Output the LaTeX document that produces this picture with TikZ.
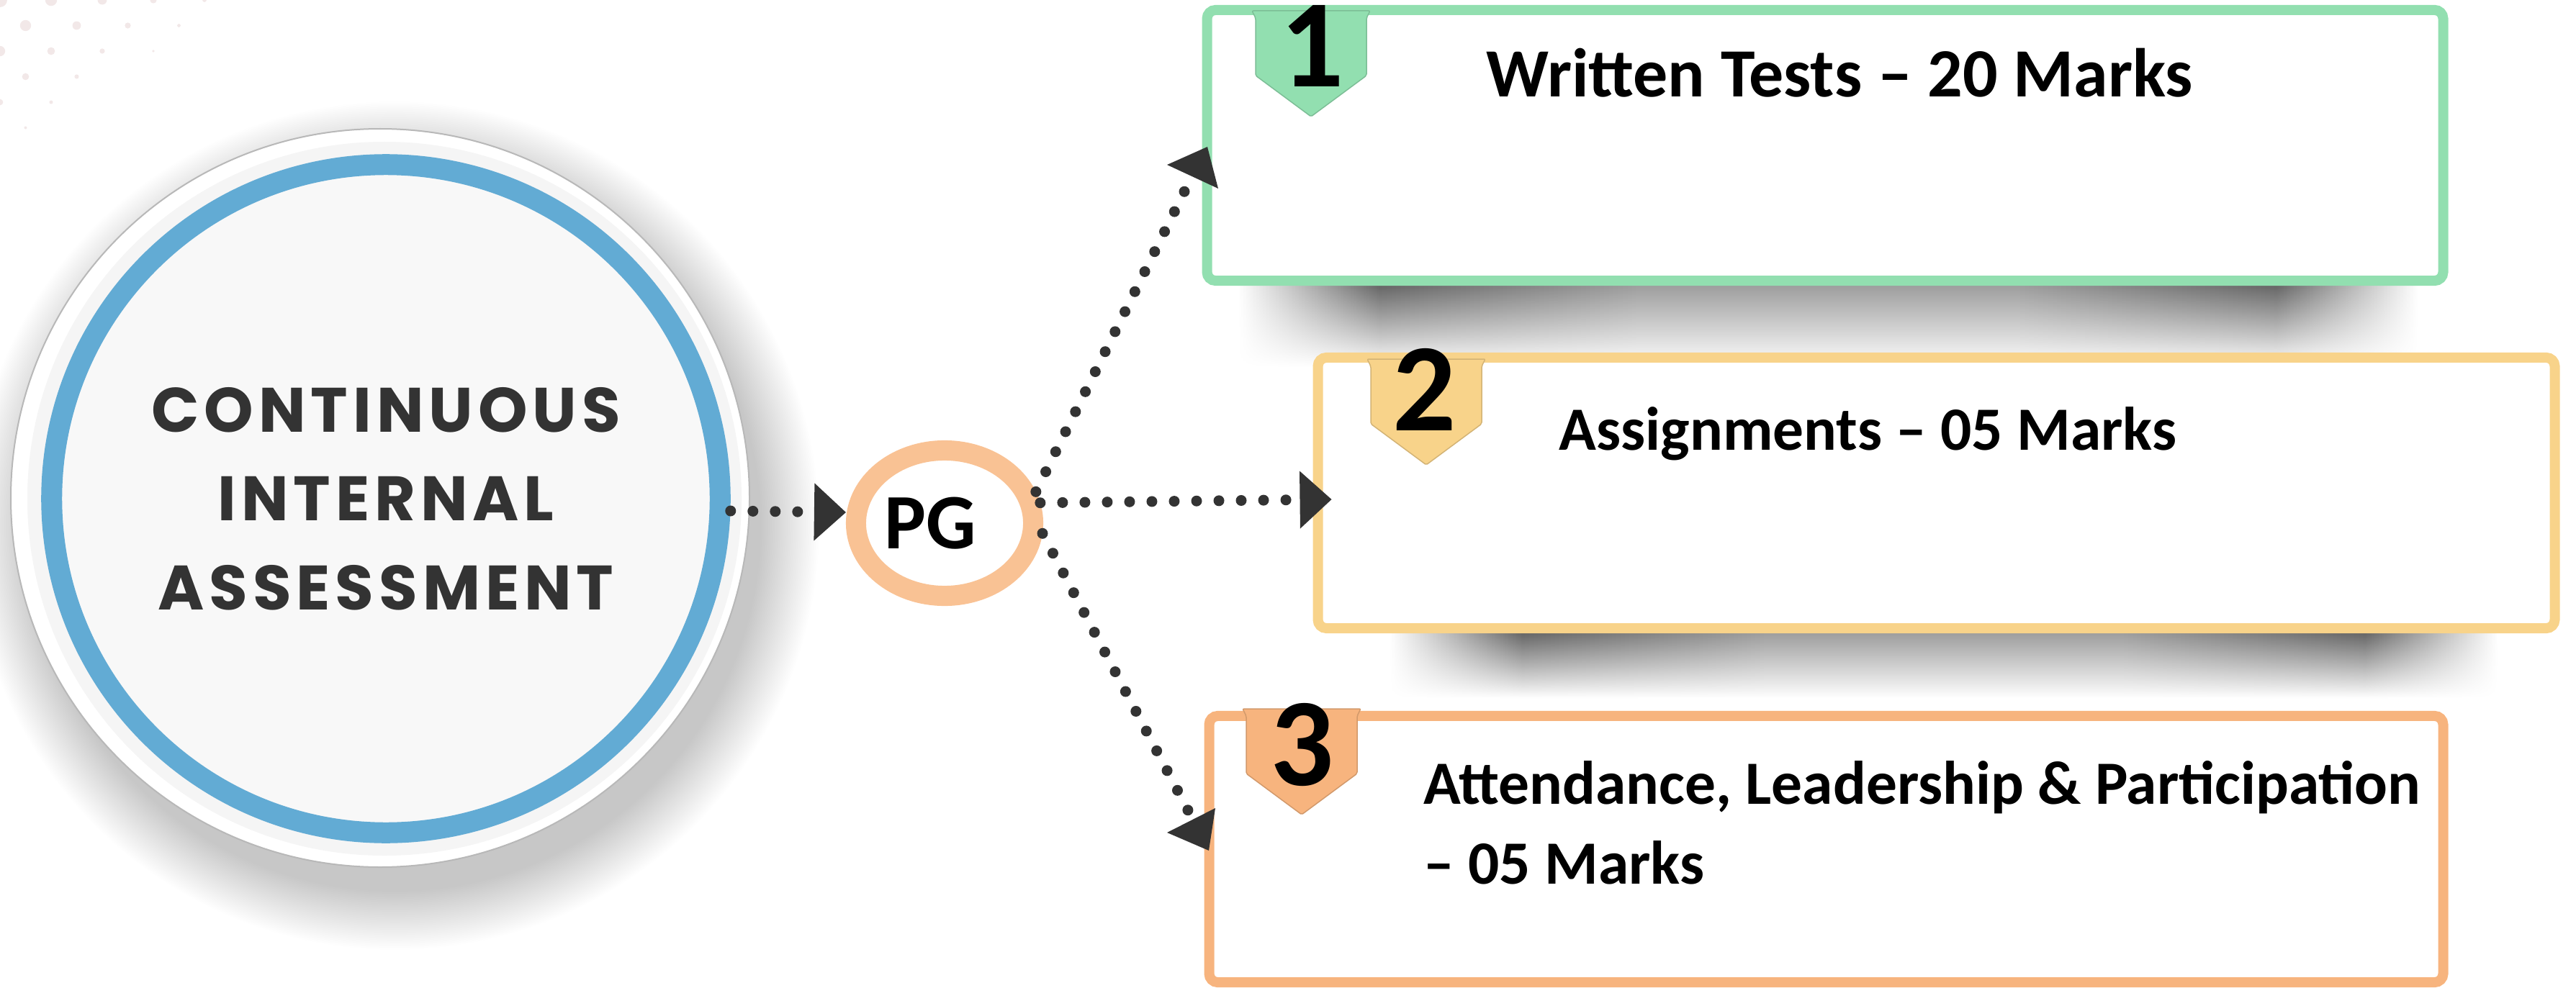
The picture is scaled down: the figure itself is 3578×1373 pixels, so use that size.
\documentclass[tikz,border=0pt]{standalone}
\usepackage{fontspec}
\setmainfont{Carlito}
\newfontfamily\ciafont{Poppins}[LetterSpace=8]
\usepackage{tikz}
\usetikzlibrary{arrows.meta, positioning, shapes.geometric, fadings}
\definecolor{ringblue}{HTML}{62ABD4}
\definecolor{mintline}{HTML}{92DFB0}
\definecolor{goldline}{HTML}{F8D38A}
\definecolor{peachline}{HTML}{F7B47E}
\definecolor{pgring}{HTML}{F9C294}
\definecolor{dotgray}{HTML}{333333}
\definecolor{discfill}{HTML}{F8F8F8}
\definecolor{speck}{HTML}{F2E8E8}
\pgfdeclareradialshading{discshadow}{\pgfpoint{0bp}{0bp}}{color(0bp)=(black!22); color(21.5bp)=(black!22); color(25bp)=(white); color(50bp)=(white)}
\pgfdeclarehorizontalshading{boxshadow}{100bp}{color(0bp)=(white); color(25bp)=(white); color(31bp)=(black!60); color(42bp)=(black!38); color(58bp)=(black!38); color(69bp)=(black!60); color(75bp)=(white); color(100bp)=(white)}
\tikzset{>={Triangle[length=0.44cm, width=0.8cm, line width=0pt]},
  dotline/.style={dotgray, line width=0.15cm, line cap=round, dash pattern=on 0pt off 0.31cm},
  markbox/.style={rectangle, rounded corners=0.12cm, line width=0.14cm, fill=white},
  marktext/.style={anchor=base west, font=\bfseries\fontsize{24.3pt}{31.3pt}\selectfont, align=left},
  badgenum/.style={anchor=base, font=\bfseries\fontsize{49.5pt}{50pt}\selectfont}}

\begin{document}
\begin{tikzpicture}[x=0.01cm, y=-0.01cm, every node/.style={inner sep=0pt}]
	\useasboundingbox (0,0) rectangle (3578,1373);
	% faint dots in the corner
	\foreach \r in {0,...,5}{
		\foreach \c in {0,...,5}{
			\pgfmathsetmacro\dx{71*\c+35.5*mod(\r,2)}
			\pgfmathsetmacro\dy{35.5*\r}
			\pgfmathsetmacro\rad{10-0.025*\dx-0.04*\dy}
			\ifdim\rad pt>1.5pt \fill[speck] (\dx,\dy) circle (\rad); \fi
		}
	}
	% disc
	\shade[shading=discshadow] (548,730) circle (590);
	\fill[white] (528,692) circle (513);
	\draw[black!28, line width=0.02cm] (528,692) circle (513);
	\fill[black!4] (534,693) circle (496);
	\node[circle, minimum size=9.28cm, line width=0.29cm, draw=ringblue, fill=discfill, text=dotgray, align=center,
		font=\ciafont\bfseries\fontsize{24.8pt}{35.1pt}\selectfont] (CIA) at (536,693) {CONTINUOUS\\INTERNAL\\ASSESSMENT};
	\node[ellipse, minimum width=2.46cm, minimum height=2.02cm, line width=0.28cm, draw=pgring, fill=white,
		font=\bfseries\fontsize{31pt}{31pt}\selectfont] (PG) at (1312,727) {PG\kern0.4cm};
	% shadows under the boxes
	\shade[shading=boxshadow, path fading=south] (1720,397) rectangle (3360,510);
	\shade[shading=boxshadow, path fading=south] (1930,880) rectangle (3470,970);
	\node[markbox, draw=mintline, minimum width=17.16cm, minimum height=3.76cm] (Written Tests) at (2535,202) {};
	\node[markbox, draw=goldline, minimum width=17.17cm, minimum height=3.76cm] (Assignments) at (2689.5,685) {};
	\node[markbox, draw=peachline, minimum width=17.13cm, minimum height=3.70cm] (Attendance) at (2536.5,1180) {};
	% badges
	\foreach \cx/\top/\col in {1821/15/mintline, 1981/499/goldline, 1808/985/peachline}{
		\filldraw[fill=\col, draw=\col!85!black, line width=0.015cm, rounded corners=0.02cm]
			(\cx-82,\top) -- (\cx-77,\top+10) -- (\cx-77,\top+90) -- (\cx,\top+147)
			-- (\cx+77,\top+90) -- (\cx+77,\top+10) -- (\cx+82,\top) -- cycle;
	}
	\node[badgenum] (One) at (1823,121) {1};
	\node[badgenum] (Two) at (1979,598) {2};
	\node[badgenum] (Three) at (1809,1091) {3};
	\node[marktext, font=\bfseries\fontsize{27.3pt}{31.3pt}\selectfont] (Written Text) at (2064,135) {Written Tests – 20 Marks};
	\node[marktext] (Assign Text) at (2165,625) {Assignments – 05 Marks};
	\node[marktext] (Attend Text) at (1977,1228) {Attendance, Leadership \& Participation\\– 05 Marks};
	% connectors
	\coordinate (Tip One) at (1658,240);
	\coordinate (Tip Three) at (1660,1145);
	\draw[dotline]
		([yshift=-0.17cm]CIA.east) edge[->] ([yshift=0.15cm]PG.west)
		(PG.19) edge (Tip One)
		(PG.12) edge[->] ([xshift=0.26cm, yshift=-0.09cm]Assignments.west)
		(PG.-6) edge (Tip Three);
	\fill[dotgray] (1621,229) -- (1677,204) -- (1692,262) -- cycle;
	\fill[dotgray] (1621,1157) -- (1688,1123) -- (1679,1182) -- cycle;
\end{tikzpicture}
\end{document}
